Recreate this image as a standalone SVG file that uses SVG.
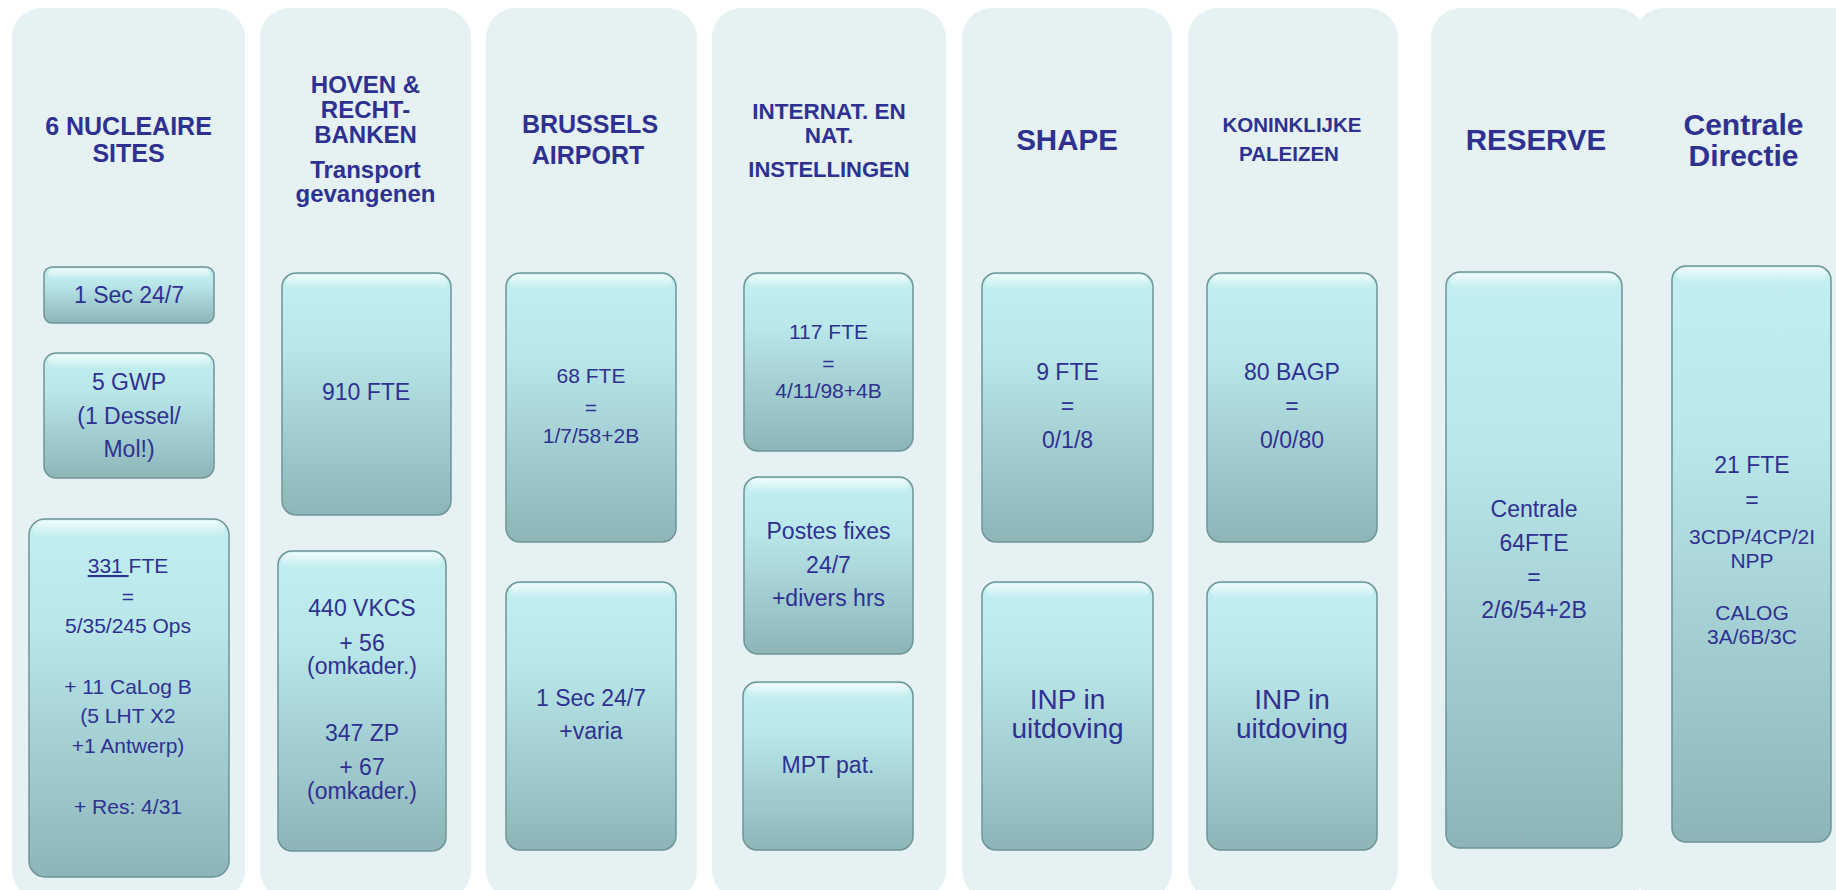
<svg xmlns="http://www.w3.org/2000/svg" width="1836" height="890" viewBox="0 0 1836 890">
<defs>
<linearGradient id="boxg" x1="0" y1="0" x2="0" y2="1">
<stop offset="0" stop-color="#c3eff1"/>
<stop offset="0.3" stop-color="#b9e7ea"/>
<stop offset="1" stop-color="#8db5b8"/>
</linearGradient>
<linearGradient id="hlg" x1="0" y1="0" x2="0" y2="1">
<stop offset="0" stop-color="#ffffff" stop-opacity="0.75"/>
<stop offset="1" stop-color="#ffffff" stop-opacity="0"/>
</linearGradient>
<style>
.col{fill:#e5f1f3}
.box{fill:url(#boxg);stroke:#6f9498;stroke-width:1.5}
.hl{fill:url(#hlg)}
.t{font-family:"Liberation Sans",Arial,sans-serif;fill:#2e3192;text-anchor:middle}
.h{font-weight:bold}
</style>
</defs>
<rect width="1836" height="890" fill="#ffffff"/>

<g id="col-nucleaire">
<rect class="col" x="12" y="8" width="233" height="892" rx="30"/>
<text class="t h" font-size="25" x="128.5" y="135">6 NUCLEAIRE</text>
<text class="t h" font-size="25" x="128.5" y="162">SITES</text>
</g>
<g id="col-hoven">
<rect class="col" x="260" y="8" width="211" height="892" rx="30"/>
<text class="t h" font-size="24" x="365.5" y="93">HOVEN &amp;</text>
<text class="t h" font-size="24" x="365.5" y="118">RECHT-</text>
<text class="t h" font-size="24" x="365.5" y="143">BANKEN</text>
<text class="t h" font-size="24" x="365.5" y="178">Transport</text>
<text class="t h" font-size="24" x="365.5" y="202">gevangenen</text>
</g>
<g id="col-airport">
<rect class="col" x="486" y="8" width="211" height="892" rx="30"/>
<text class="t h" font-size="25" x="590" y="133">BRUSSELS</text>
<text class="t h" font-size="25" x="588" y="164">AIRPORT</text>
</g>
<g id="col-internat">
<rect class="col" x="712" y="8" width="234" height="892" rx="30"/>
<text class="t h" font-size="22.5" x="829" y="119">INTERNAT. EN</text>
<text class="t h" font-size="22.5" x="829" y="143">NAT.</text>
<text class="t h" font-size="22" x="829" y="177">INSTELLINGEN</text>
</g>
<g id="col-shape">
<rect class="col" x="962" y="8" width="210" height="892" rx="30"/>
<text class="t h" font-size="29.5" x="1067" y="150">SHAPE</text>
</g>
<g id="col-paleizen">
<rect class="col" x="1188" y="8" width="210" height="892" rx="30"/>
<text class="t h" font-size="20.5" x="1292" y="132">KONINKLIJKE</text>
<text class="t h" font-size="20.5" x="1289" y="161">PALEIZEN</text>
</g>
<g id="col-reserve">
<rect class="col" x="1431" y="8" width="215" height="892" rx="30"/>
<text class="t h" font-size="29.5" x="1536" y="150">RESERVE</text>
</g>
<g id="col-centrale">
<rect class="col" x="1634" y="8" width="230" height="892" rx="30"/>
<text class="t h" font-size="30" x="1743.5" y="135">Centrale</text>
<text class="t h" font-size="30" x="1743.5" y="166">Directie</text>
</g>

<g id="n-sec247">
<rect class="box" x="44" y="267" width="170" height="56" rx="8"/>
<rect class="hl" x="48" y="268.5" width="162" height="12" rx="6"/>
<text class="t" font-size="23" x="129" y="303">1 Sec 24/7</text>
</g>
<g id="n-gwp">
<rect class="box" x="44" y="353" width="170" height="125" rx="12"/>
<rect class="hl" x="48" y="354.5" width="162" height="14" rx="8"/>
<text class="t" font-size="23" x="129" y="390">5 GWP</text>
<text class="t" font-size="23" x="129" y="424">(1 Dessel/</text>
<text class="t" font-size="23" x="129" y="457">Mol!)</text>
</g>
<g id="n-331">
<rect class="box" x="29" y="519" width="200" height="358" rx="16"/>
<rect class="hl" x="33" y="520.5" width="192" height="16" rx="10"/>
<text class="t" font-size="21" x="128" y="573"><tspan text-decoration="underline">331 </tspan>FTE</text>
<text class="t" font-size="21" x="128" y="604">=</text>
<text class="t" font-size="21" x="128" y="633">5/35/245 Ops</text>
<text class="t" font-size="21" x="128" y="694">+ 11 CaLog B</text>
<text class="t" font-size="21" x="128" y="723">(5 LHT X2</text>
<text class="t" font-size="21" x="128" y="753">+1 Antwerp)</text>
<text class="t" font-size="21" x="128" y="814">+ Res: 4/31</text>
</g>

<g id="n-910">
<rect class="box" x="282" y="273" width="169" height="242" rx="14"/>
<rect class="hl" x="286" y="274.5" width="161" height="15" rx="9"/>
<text class="t" font-size="23" x="366" y="400">910 FTE</text>
</g>
<g id="n-440">
<rect class="box" x="278" y="551" width="168" height="300" rx="14"/>
<rect class="hl" x="282" y="552.5" width="160" height="15" rx="9"/>
<text class="t" font-size="23" x="362" y="616">440 VKCS</text>
<text class="t" font-size="23" x="362" y="651">+ 56</text>
<text class="t" font-size="23" x="362" y="674">(omkader.)</text>
<text class="t" font-size="23" x="362" y="741">347 ZP</text>
<text class="t" font-size="23" x="362" y="775">+ 67</text>
<text class="t" font-size="23" x="362" y="799">(omkader.)</text>
</g>

<g id="n-68">
<rect class="box" x="506" y="273" width="170" height="269" rx="14"/>
<rect class="hl" x="510" y="274.5" width="162" height="15" rx="9"/>
<text class="t" font-size="21" x="591" y="383">68 FTE</text>
<text class="t" font-size="21" x="591" y="415">=</text>
<text class="t" font-size="21" x="591" y="443">1/7/58+2B</text>
</g>
<g id="n-airsec">
<rect class="box" x="506" y="582" width="170" height="268" rx="14"/>
<rect class="hl" x="510" y="583.5" width="162" height="15" rx="9"/>
<text class="t" font-size="23" x="591" y="706">1 Sec 24/7</text>
<text class="t" font-size="23" x="591" y="739">+varia</text>
</g>

<g id="n-117">
<rect class="box" x="744" y="273" width="169" height="178" rx="14"/>
<rect class="hl" x="748" y="274.5" width="161" height="15" rx="9"/>
<text class="t" font-size="21" x="828.5" y="339">117 FTE</text>
<text class="t" font-size="21" x="828.5" y="371">=</text>
<text class="t" font-size="21" x="828.5" y="398">4/11/98+4B</text>
</g>
<g id="n-postes">
<rect class="box" x="744" y="477" width="169" height="177" rx="14"/>
<rect class="hl" x="748" y="478.5" width="161" height="15" rx="9"/>
<text class="t" font-size="23" x="828.5" y="539">Postes fixes</text>
<text class="t" font-size="23" x="828.5" y="573">24/7</text>
<text class="t" font-size="23" x="828.5" y="606">+divers hrs</text>
</g>
<g id="n-mpt">
<rect class="box" x="743" y="682" width="170" height="168" rx="14"/>
<rect class="hl" x="747" y="683.5" width="162" height="15" rx="9"/>
<text class="t" font-size="23" x="828" y="773">MPT pat.</text>
</g>

<g id="n-9fte">
<rect class="box" x="982" y="273" width="171" height="269" rx="14"/>
<rect class="hl" x="986" y="274.5" width="163" height="15" rx="9"/>
<text class="t" font-size="23" x="1067.5" y="380">9 FTE</text>
<text class="t" font-size="23" x="1067.5" y="414">=</text>
<text class="t" font-size="23" x="1067.5" y="448">0/1/8</text>
</g>
<g id="n-inp1">
<rect class="box" x="982" y="582" width="171" height="268" rx="14"/>
<rect class="hl" x="986" y="583.5" width="163" height="15" rx="9"/>
<text class="t" font-size="28" x="1067.5" y="709">INP in</text>
<text class="t" font-size="28" x="1067.5" y="738">uitdoving</text>
</g>

<g id="n-80bagp">
<rect class="box" x="1207" y="273" width="170" height="269" rx="14"/>
<rect class="hl" x="1211" y="274.5" width="162" height="15" rx="9"/>
<text class="t" font-size="23" x="1292" y="380">80 BAGP</text>
<text class="t" font-size="23" x="1292" y="414">=</text>
<text class="t" font-size="23" x="1292" y="448">0/0/80</text>
</g>
<g id="n-inp2">
<rect class="box" x="1207" y="582" width="170" height="268" rx="14"/>
<rect class="hl" x="1211" y="583.5" width="162" height="15" rx="9"/>
<text class="t" font-size="28" x="1292" y="709">INP in</text>
<text class="t" font-size="28" x="1292" y="738">uitdoving</text>
</g>

<g id="n-reserve">
<rect class="box" x="1446" y="272" width="176" height="576" rx="14"/>
<rect class="hl" x="1450" y="273.5" width="168" height="15" rx="9"/>
<text class="t" font-size="23" x="1534" y="517">Centrale</text>
<text class="t" font-size="23" x="1534" y="551">64FTE</text>
<text class="t" font-size="23" x="1534" y="585">=</text>
<text class="t" font-size="23" x="1534" y="618">2/6/54+2B</text>
</g>

<g id="n-cd">
<rect class="box" x="1672" y="266" width="159" height="576" rx="14"/>
<rect class="hl" x="1676" y="267.5" width="151" height="15" rx="9"/>
<text class="t" font-size="23" x="1752" y="473">21 FTE</text>
<text class="t" font-size="23" x="1752" y="508">=</text>
<text class="t" font-size="21" x="1752" y="544">3CDP/4CP/2I</text>
<text class="t" font-size="21" x="1752" y="568">NPP</text>
<text class="t" font-size="21" x="1752" y="620">CALOG</text>
<text class="t" font-size="21" x="1752" y="644">3A/6B/3C</text>
</g>

<g id="connectors"></g>
</svg>
